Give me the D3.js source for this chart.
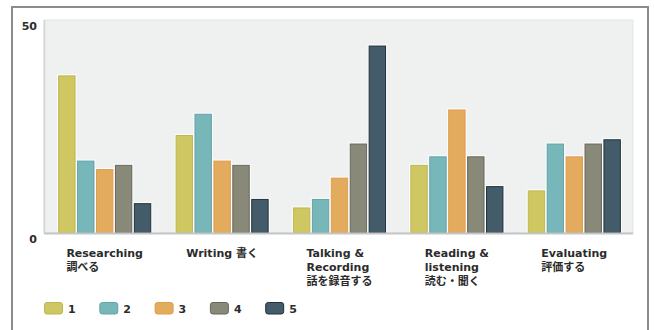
<!DOCTYPE html>
<html>
<head>
<meta charset="utf-8">
<script src="https://cdn.jsdelivr.net/npm/d3@7"></script>
<style>
  html, body { margin: 0; padding: 0; background: #fff; }
  svg { display: block; }
  text { font-family: "DejaVu Sans", "Noto Sans CJK JP", sans-serif; font-weight: bold; fill: #2b2b2b; }
</style>
</head>
<body>
<svg id="chart" width="654" height="330"></svg>
<script>
// Activity categories, each label split into its display lines
const categories = ["Researching", "Writing", "Talking", "Reading", "Evaluating"];
const categoryLines = [
  ["Researching", "調べる"],
  ["Writing 書く"],
  ["Talking &", "Recording", "話を録音する"],
  ["Reading &", "listening", "読む・聞く"],
  ["Evaluating", "評価する"]
];

// Rating series 1–5, one value per category
const seriesNames = ["1", "2", "3", "4", "5"];
const series1 = [37, 23, 6, 16, 10];
const series2 = [17, 28, 8, 18, 21];
const series3 = [15, 17, 13, 29, 18];
const series4 = [16, 16, 21, 18, 21];
const series5 = [7, 8, 44, 11, 22];
const seriesValues = [series1, series2, series3, series4, series5];

const yTicks = [0, 50];

const fills   = ["#cfc862", "#77b6b9", "#e3ab5d", "#89897a", "#445c6a"];
const strokes = ["#bdb650", "#64a3a7", "#e19b4c", "#66665a", "#1f2f3b"];

const svg = d3.select("#chart");

// Outer frame
svg.append("rect")
  .attr("x", 12).attr("y", 7)
  .attr("width", 636).attr("height", 360)
  .attr("fill", "none")
  .attr("stroke", "#8c8c8c")
  .attr("stroke-width", 2);

const plot = { left: 44, right: 633, top: 20, bottom: 233 };

const x0 = d3.scaleBand()
  .domain(categories)
  .range([46, plot.right])
  .paddingInner(0.207)
  .paddingOuter(0.1035);

const x1 = d3.scaleBand()
  .domain(seriesNames)
  .range([0, x0.bandwidth()])
  .paddingInner(0.08);

const y = d3.scaleLinear()
  .domain([0, 50])
  .range([plot.bottom, plot.top]);

// Plot background
svg.append("rect")
  .attr("x", plot.left).attr("y", plot.top)
  .attr("width", plot.right - plot.left)
  .attr("height", plot.bottom - plot.top)
  .attr("fill", "#eff0f0")
  .attr("stroke", "#e4e6e6")
  .attr("stroke-width", 1);

// Left edge and baseline
svg.append("line")
  .attr("x1", plot.left + 0.5).attr("x2", plot.left + 0.5)
  .attr("y1", plot.top).attr("y2", plot.bottom)
  .attr("stroke", "#d2d4d4").attr("stroke-width", 1.5);

// Bars
const groups = svg.append("g").selectAll("g")
  .data(categories)
  .join("g")
  .attr("transform", d => `translate(${x0(d)},0)`);

groups.each(function(cat, ci) {
  const g = d3.select(this);
  seriesNames.forEach((s, si) => {
    const v = seriesValues[si][ci];
    const bx = x1(s), bw = x1.bandwidth();
    const by = y(v), bh = y(0) - y(v);
    g.append("rect")
      .attr("x", bx - 1).attr("y", by - 1)
      .attr("width", bw + 2).attr("height", bh + 1)
      .attr("fill", "#ffffff");
    g.append("rect")
      .attr("x", bx + 0.5).attr("y", by + 0.5)
      .attr("width", bw - 1).attr("height", bh - 0.5)
      .attr("fill", fills[si])
      .attr("stroke", strokes[si])
      .attr("stroke-width", 1);
  });
});

svg.append("line")
  .attr("x1", plot.left).attr("x2", plot.right)
  .attr("y1", plot.bottom + 0.5).attr("y2", plot.bottom + 0.5)
  .attr("stroke", "#c4c6c6").attr("stroke-width", 2);

// Y tick labels, hung just below their tick positions
const yAxis = d3.axisLeft(y).tickValues(yTicks).tickSize(0).tickPadding(0);
const ya = svg.append("g").attr("transform", `translate(37,0)`).call(yAxis);
ya.select(".domain").remove();
ya.selectAll("text")
  .attr("font-size", 11)
  .attr("font-family", null)
  .attr("dy", null)
  .attr("y", 9.5)
  .attr("x", 0)
  .attr("text-anchor", "end");
ya.selectAll("text").attr("y", d => d === 0 ? 9.7 : 9.3);

// Category labels: left-aligned lines, block centred under each group
categories.forEach((cat, ci) => {
  const t = svg.append("text").attr("font-size", 11);
  categoryLines[ci].forEach((line, li) => {
    t.append("tspan").attr("x", 0).attr("y", 257 + li * 14).text(line);
  });
  let maxW = 0;
  t.selectAll("tspan").each(function() {
    maxW = Math.max(maxW, this.getComputedTextLength());
  });
  const cx = x0(cat) + x0.bandwidth() / 2;
  t.selectAll("tspan").attr("x", cx - maxW / 2);
});

// Legend
const legend = svg.append("g").attr("transform", "translate(44,302)");
seriesNames.forEach((s, si) => {
  const lg = legend.append("g").attr("transform", `translate(${si * 55.3},0)`);
  lg.append("rect")
    .attr("x", 0.5).attr("y", 0.5)
    .attr("width", 18).attr("height", 11.5)
    .attr("rx", 2.5)
    .attr("fill", fills[si])
    .attr("stroke", strokes[si])
    .attr("stroke-width", 1);
  lg.append("text")
    .attr("x", 24).attr("y", 10.5)
    .attr("font-size", 11)
    .text(s);
});
</script>
</body>
</html>
